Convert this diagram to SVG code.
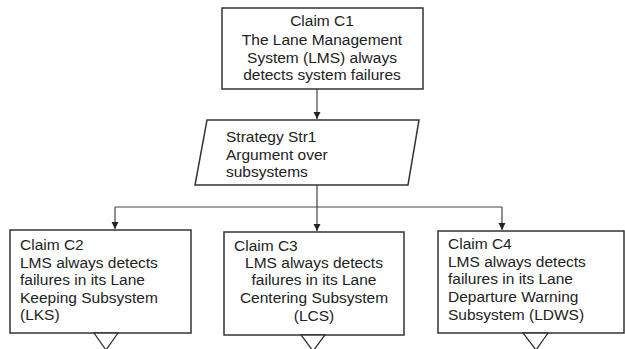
<svg xmlns="http://www.w3.org/2000/svg" width="625" height="349" viewBox="0 0 625 349">
<defs>
<marker id="arr" markerWidth="8" markerHeight="8" refX="7" refY="4" orient="auto" markerUnits="userSpaceOnUse">
<path d="M0,0.5 L7,4 L0,7.5 Z" fill="#222"/>
</marker>
<style>
.box{fill:#fff;stroke:#333;stroke-width:1.5}
.tri{fill:#fff;stroke:#333;stroke-width:1.3}
.ln{fill:none;stroke:#444;stroke-width:1.2}
text{font-family:"Liberation Sans",Arial,sans-serif;font-size:15.5px;fill:#222}
.c{text-anchor:middle}
</style>
</defs>
<rect width="625" height="349" fill="#fff"/>
<g id="connectors">
<path class="ln" d="M317,89 V119" marker-end="url(#arr)"/>
<path class="ln" d="M317,185 V207"/>
<path class="ln" d="M115,207 H502"/>
<path class="ln" d="M115,207 V229" marker-end="url(#arr)"/>
<path class="ln" d="M317,207 V231" marker-end="url(#arr)"/>
<path class="ln" d="M502,207 V230" marker-end="url(#arr)"/>
</g>
<g id="C1">
<rect class="box" x="222" y="8" width="201" height="81"/>
<text class="c" x="322" y="26">Claim C1</text>
<text class="c" x="322" y="45">The Lane Management</text>
<text class="c" x="322" y="63">System (LMS) always</text>
<text class="c" x="322" y="80">detects system failures</text>
</g>
<g id="Str1">
<polygon class="box" points="207,120 419,120 408,185 195,185"/>
<text x="226" y="142">Strategy Str1</text>
<text x="226" y="160">Argument over</text>
<text x="226" y="177">subsystems</text>
</g>
<g id="C2">
<rect class="box" x="10" y="230" width="181" height="103"/>
<text x="20" y="250">Claim C2</text>
<text x="20" y="268">LMS always detects</text>
<text x="20" y="285">failures in its Lane</text>
<text x="20" y="303">Keeping Subsystem</text>
<text x="20" y="320">(LKS)</text>
<polygon class="tri" points="94,333 118,333 106,350"/>
</g>
<g id="C3">
<rect class="box" x="224" y="232" width="180" height="103"/>
<text x="234" y="251">Claim C3</text>
<text class="c" x="314" y="268">LMS always detects</text>
<text class="c" x="314" y="285">failures in its Lane</text>
<text class="c" x="314" y="303">Centering Subsystem</text>
<text class="c" x="314" y="321">(LCS)</text>
<polygon class="tri" points="301,335 325,335 313,351"/>
</g>
<g id="C4">
<rect class="box" x="438" y="231" width="186" height="102"/>
<text x="448" y="249">Claim C4</text>
<text x="448" y="267">LMS always detects</text>
<text x="448" y="284">failures in its Lane</text>
<text x="448" y="302">Departure Warning</text>
<text x="448" y="320">Subsystem (LDWS)</text>
<polygon class="tri" points="523,333 548,333 536,350"/>
</g>
</svg>
